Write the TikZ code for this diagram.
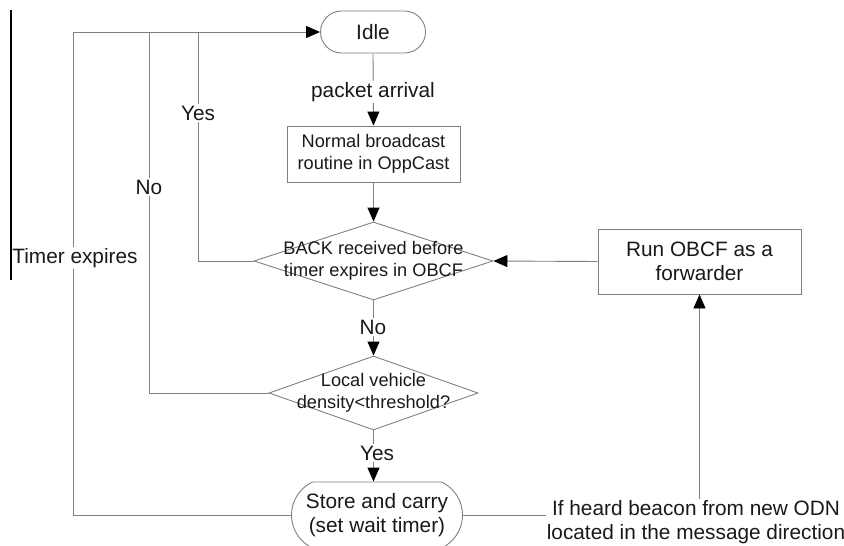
\documentclass[tikz,border=0pt]{standalone}
\usepackage{fontspec}
\setmainfont{Liberation Sans}
\usetikzlibrary{shapes.geometric,shapes.misc,arrows.meta}
\begin{document}
\begin{tikzpicture}[x=1pt,y=-1pt,
  line/.style={draw=black!50, line width=0.9pt},
  arr/.style={line, -{Triangle[length=14pt,width=12pt,color=black]}},
  big/.style={font=\fontsize{20.8}{24.5}\selectfont, text=black!90, align=center},
  small/.style={font=\fontsize{18.2}{22}\selectfont, text=black!90, align=center},
  lbl/.style={big, fill=white, inner sep=1.5pt},
  term/.style={rounded rectangle, draw=black!50, line width=0.9pt, big, inner sep=0pt},
  proc/.style={rectangle, draw=black!50, line width=0.9pt, inner sep=0pt},
  dec/.style={diamond, draw=black!50, line width=0.9pt, inner sep=0pt}]
\useasboundingbox (0,0) rectangle (844,546);

% nodes
\node[term, minimum width=105pt, minimum height=42pt] (idle) at (373,32) {Idle};
\node[proc, small, minimum width=173pt, minimum height=56pt] (nb) at (373.5,154) {Normal broadcast\\routine in OppCast};
\node[dec, minimum width=239pt, minimum height=78pt, label={[small]center:BACK received before\\timer expires in OBCF}] (d1) at (373.5,261) {};
\node[dec, minimum width=209pt, minimum height=74pt, label={[small]center:Local vehicle\\density<threshold?}] (d2) at (373.5,393) {};
\node[term, rounded rectangle arc length=130, minimum width=171pt, minimum height=66pt] (st) at (377,515) {Store and carry\\(set wait timer)};
\node[proc, big, minimum width=203pt, minimum height=65pt] (run) at (699.5,261.5) {Run OBCF as a\\forwarder};
\node[big, inner sep=1pt] (bc) at (696,522) {If heard beacon from new ODN\\located in the message direction};

% corner coordinates on the top line
\coordinate (c1) at (73,32);
\coordinate (c2) at (149,32);
\coordinate (c3) at (198,32);
\coordinate (e1) at (11,10);
\coordinate (e2) at (11,280);

% main flow
\draw[arr] (idle.south) -- (nb.north);
\draw[arr] (nb.south) -- (d1.north);
\draw[arr] (d1.south) -- (d2.north);
\draw[arr] (d2.south) -- (d2.south |- st.north);
\draw[arr] (run.west) -- (d1.east);
\draw[arr] (run.south |- bc.north) -- (run.south);
\draw[line] (st.east) -- (st.east -| bc.west);

% loops back to Idle
\draw[line] (st.west) -| (c1);
\draw[line] (d2.west) -| (c2);
\draw[line] (d1.west) -| (c3);
\draw[arr] (c1) -- (idle.west);

% labels on connectors
\node[lbl] (pa) at (373,92) {packet arrival};
\node[lbl] (no1) at (373,327) {No};
\node[lbl] (yes2) at (377,453) {Yes};
\node[lbl] (yes1) at (198,113) {Yes};
\node[lbl] (no2) at (149,187) {No};
\node[lbl] (te) at (75,258) {Timer expires};

% stray edge line
\draw[line width=1.2pt] (e1) -- (e2);
\end{tikzpicture}
\end{document}
